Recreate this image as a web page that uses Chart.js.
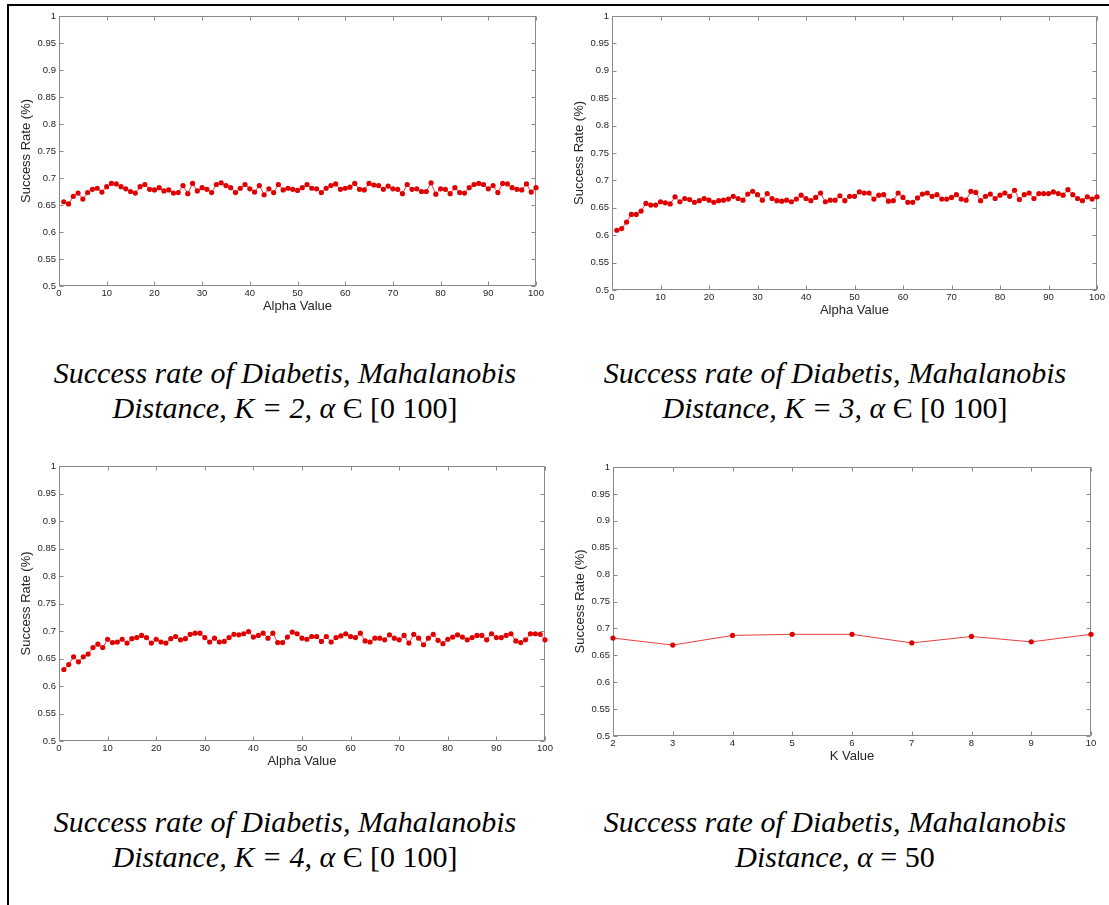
<!DOCTYPE html>
<html>
<head>
<meta charset="utf-8">
<title>Success rate of Diabetis, Mahalanobis Distance</title>
<script src="https://cdn.jsdelivr.net/npm/chart.js@4.4.1/dist/chart.umd.min.js"></script>
<style>
  html, body { margin: 0; padding: 0; background: #fff; }
  body { position: relative; width: 1109px; height: 905px; overflow: hidden; }
  .frame { position: absolute; left: 7px; top: 4px; width: 1200px; height: 1000px;
           border-left: 2px solid #000; border-top: 2px solid #000; }
  canvas { position: absolute; }
  .caption { position: absolute; width: 560px; text-align: center; white-space: nowrap;
             font-family: "Liberation Serif", "Times New Roman", serif; font-style: italic;
             font-size: 30px; line-height: 35px; color: #000; }
  .caption .up { font-style: normal; }
</style>
</head>
<body>
<div class="frame"></div>

<canvas id="chartK2"></canvas>
<canvas id="chartK3"></canvas>
<canvas id="chartK4"></canvas>
<canvas id="chartAlpha50"></canvas>

<div class="caption" style="left:5px; top:355px;">Success rate of Diabetis, Mahalanobis<br>Distance, K = 2, α <span class="up">Є [0 100]</span></div>
<div class="caption" style="left:555px; top:355px;">Success rate of Diabetis, Mahalanobis<br>Distance, K = 3, α <span class="up">Є [0 100]</span></div>
<div class="caption" style="left:5px; top:804px;">Success rate of Diabetis, Mahalanobis<br>Distance, K = 4, α <span class="up">Є [0 100]</span></div>
<div class="caption" style="left:555px; top:804px;">Success rate of Diabetis, Mahalanobis<br>Distance, α <span class="up">= 50</span></div>

<script>
// alpha runs 1..100 on the first three plots, K runs 2..10 on the last one
const alphaValues = Array.from({ length: 100 }, (_, i) => i + 1);
const kValues = [2, 3, 4, 5, 6, 7, 8, 9, 10];

const alphaTicks = [0, 10, 20, 30, 40, 50, 60, 70, 80, 90, 100];
const kTicks = [2, 3, 4, 5, 6, 7, 8, 9, 10];
const rateTicks = [0.5, 0.55, 0.6, 0.65, 0.7, 0.75, 0.8, 0.85, 0.9, 0.95, 1];

const rateK2 = [
  0.656, 0.652, 0.666, 0.672, 0.661, 0.673, 0.679, 0.681, 0.674, 0.684,
  0.690, 0.689, 0.684, 0.680, 0.675, 0.672, 0.684, 0.688, 0.679, 0.678,
  0.682, 0.676, 0.678, 0.672, 0.673, 0.686, 0.671, 0.690, 0.676, 0.682,
  0.679, 0.673, 0.688, 0.691, 0.686, 0.682, 0.673, 0.681, 0.688, 0.680,
  0.674, 0.686, 0.669, 0.680, 0.673, 0.688, 0.678, 0.681, 0.679, 0.677,
  0.682, 0.688, 0.681, 0.680, 0.673, 0.681, 0.686, 0.689, 0.679, 0.681,
  0.683, 0.690, 0.679, 0.678, 0.690, 0.687, 0.686, 0.679, 0.685, 0.680,
  0.679, 0.671, 0.688, 0.679, 0.680, 0.675, 0.675, 0.691, 0.670, 0.680,
  0.679, 0.671, 0.682, 0.673, 0.672, 0.682, 0.688, 0.690, 0.688, 0.680,
  0.686, 0.673, 0.690, 0.689, 0.682, 0.679, 0.678, 0.689, 0.674, 0.682
];

const rateK3 = [
  0.609, 0.612, 0.624, 0.638, 0.638, 0.644, 0.658, 0.655, 0.655, 0.661,
  0.659, 0.657, 0.670, 0.661, 0.667, 0.665, 0.660, 0.663, 0.667, 0.664,
  0.660, 0.663, 0.664, 0.666, 0.671, 0.667, 0.664, 0.675, 0.680, 0.674,
  0.664, 0.676, 0.667, 0.663, 0.662, 0.664, 0.661, 0.666, 0.673, 0.667,
  0.663, 0.669, 0.677, 0.661, 0.664, 0.664, 0.672, 0.663, 0.671, 0.671,
  0.679, 0.677, 0.677, 0.666, 0.673, 0.674, 0.662, 0.663, 0.677, 0.669,
  0.660, 0.660, 0.668, 0.675, 0.677, 0.671, 0.674, 0.666, 0.666, 0.669,
  0.674, 0.666, 0.664, 0.680, 0.678, 0.663, 0.671, 0.675, 0.667, 0.673,
  0.677, 0.671, 0.682, 0.665, 0.674, 0.677, 0.667, 0.676, 0.676, 0.676,
  0.679, 0.676, 0.673, 0.683, 0.674, 0.667, 0.663, 0.670, 0.666, 0.670
];

const rateK4 = [
  0.630, 0.639, 0.653, 0.644, 0.653, 0.658, 0.670, 0.676, 0.670, 0.685,
  0.679, 0.680, 0.685, 0.678, 0.686, 0.688, 0.692, 0.688, 0.678, 0.685,
  0.680, 0.678, 0.686, 0.690, 0.684, 0.686, 0.694, 0.696, 0.696, 0.688,
  0.680, 0.687, 0.680, 0.681, 0.688, 0.694, 0.693, 0.695, 0.699, 0.689,
  0.692, 0.696, 0.687, 0.696, 0.679, 0.679, 0.689, 0.698, 0.695, 0.687,
  0.685, 0.690, 0.690, 0.681, 0.690, 0.680, 0.688, 0.691, 0.695, 0.690,
  0.688, 0.696, 0.682, 0.680, 0.687, 0.687, 0.684, 0.693, 0.687, 0.684,
  0.692, 0.678, 0.694, 0.687, 0.675, 0.687, 0.694, 0.683, 0.677, 0.685,
  0.689, 0.693, 0.689, 0.684, 0.688, 0.692, 0.692, 0.684, 0.695, 0.688,
  0.688, 0.692, 0.695, 0.682, 0.679, 0.684, 0.695, 0.695, 0.694, 0.684
];

const rateAlpha50 = [0.682, 0.669, 0.687, 0.689, 0.689, 0.673, 0.685, 0.675, 0.689];

const markerRed = '#e00000';
const lineRed = 'rgba(224, 30, 30, 0.85)';
const axisGrey = '#8a8a8a';
const textGrey = '#262626';

// boxed axes with short inward ticks on all four sides
const boxedAxes = {
  id: 'boxedAxes',
  beforeDatasetsDraw(chart) {
    const { ctx, chartArea: a, scales: { x, y } } = chart;
    const L = Math.round(a.left) + 0.5, R = Math.round(a.right) - 0.5;
    const T = Math.round(a.top) + 0.5, B = Math.round(a.bottom) - 0.5;
    ctx.save();
    ctx.strokeStyle = axisGrey;
    ctx.lineWidth = 1;
    ctx.strokeRect(L, T, R - L, B - T);
    ctx.beginPath();
    x.ticks.forEach(t => {
      const px = Math.round(x.getPixelForValue(t.value)) + 0.5;
      ctx.moveTo(px, B); ctx.lineTo(px, B - 4);
      ctx.moveTo(px, T); ctx.lineTo(px, T + 4);
    });
    y.ticks.forEach(t => {
      const py = Math.round(y.getPixelForValue(t.value)) + 0.5;
      ctx.moveTo(L, py); ctx.lineTo(L + 4, py);
      ctx.moveTo(R, py); ctx.lineTo(R - 4, py);
    });
    ctx.stroke();
    ctx.restore();
  }
};

// area = page position of the plot box
function drawRateChart(id, area, xs, ys, xTicks, xTitle) {
  const axisW = 52, axisH = 28, padTop = 10, padRight = 14;
  const canvas = document.getElementById(id);
  const left = area.left - axisW, top = area.top - padTop;
  const width = area.right + padRight - left, height = area.bottom + axisH - top;
  canvas.width = width;
  canvas.height = height;
  Object.assign(canvas.style, { left: left + 'px', top: top + 'px', width: width + 'px', height: height + 'px' });

  const tickFont = { family: '"Liberation Sans", Arial, sans-serif', size: 9.5 };
  const titleFont = { family: '"Liberation Sans", Arial, sans-serif', size: 13 };

  new Chart(canvas, {
    type: 'line',
    data: {
      datasets: [{
        data: xs.map((x, i) => ({ x, y: ys[i] })),
        borderColor: lineRed,
        borderWidth: 1,
        pointRadius: 2.6,
        pointBorderWidth: 0,
        pointBackgroundColor: markerRed,
        tension: 0,
        clip: 8
      }]
    },
    options: {
      responsive: false,
      animation: false,
      layout: { padding: { top: padTop, right: padRight, left: 0, bottom: 0 } },
      plugins: { legend: { display: false }, tooltip: { enabled: false } },
      scales: {
        x: {
          type: 'linear',
          min: xTicks[0],
          max: xTicks[xTicks.length - 1],
          afterBuildTicks: s => { s.ticks = xTicks.map(v => ({ value: v })); },
          afterFit: s => { s.height = axisH; },
          grid: { display: false, drawTicks: false },
          border: { display: false },
          ticks: { padding: 2, autoSkip: false, maxRotation: 0, font: tickFont, color: textGrey },
          title: { display: true, text: xTitle, font: titleFont, color: textGrey, padding: 0 }
        },
        y: {
          min: 0.5,
          max: 1,
          afterBuildTicks: s => { s.ticks = rateTicks.map(v => ({ value: v })); },
          afterFit: s => { s.width = axisW; },
          grid: { display: false, drawTicks: false },
          border: { display: false },
          ticks: {
            padding: 3,
            font: tickFont,
            color: textGrey,
            callback: v => String(+v.toFixed(2))
          },
          title: {
            display: true,
            text: 'Success Rate (%)',
            font: titleFont,
            color: textGrey,
            padding: { top: axisW - 33 - 7.8, bottom: 0 }
          }
        }
      }
    },
    plugins: [boxedAxes]
  });
}

drawRateChart('chartK2', { left: 59, top: 16, right: 536, bottom: 286 }, alphaValues, rateK2, alphaTicks, 'Alpha Value');
drawRateChart('chartK3', { left: 612, top: 16, right: 1097, bottom: 290 }, alphaValues, rateK3, alphaTicks, 'Alpha Value');
drawRateChart('chartK4', { left: 59, top: 466, right: 545, bottom: 741 }, alphaValues, rateK4, alphaTicks, 'Alpha Value');
drawRateChart('chartAlpha50', { left: 613, top: 467, right: 1091, bottom: 736 }, kValues, rateAlpha50, kTicks, 'K Value');
</script>
</body>
</html>
